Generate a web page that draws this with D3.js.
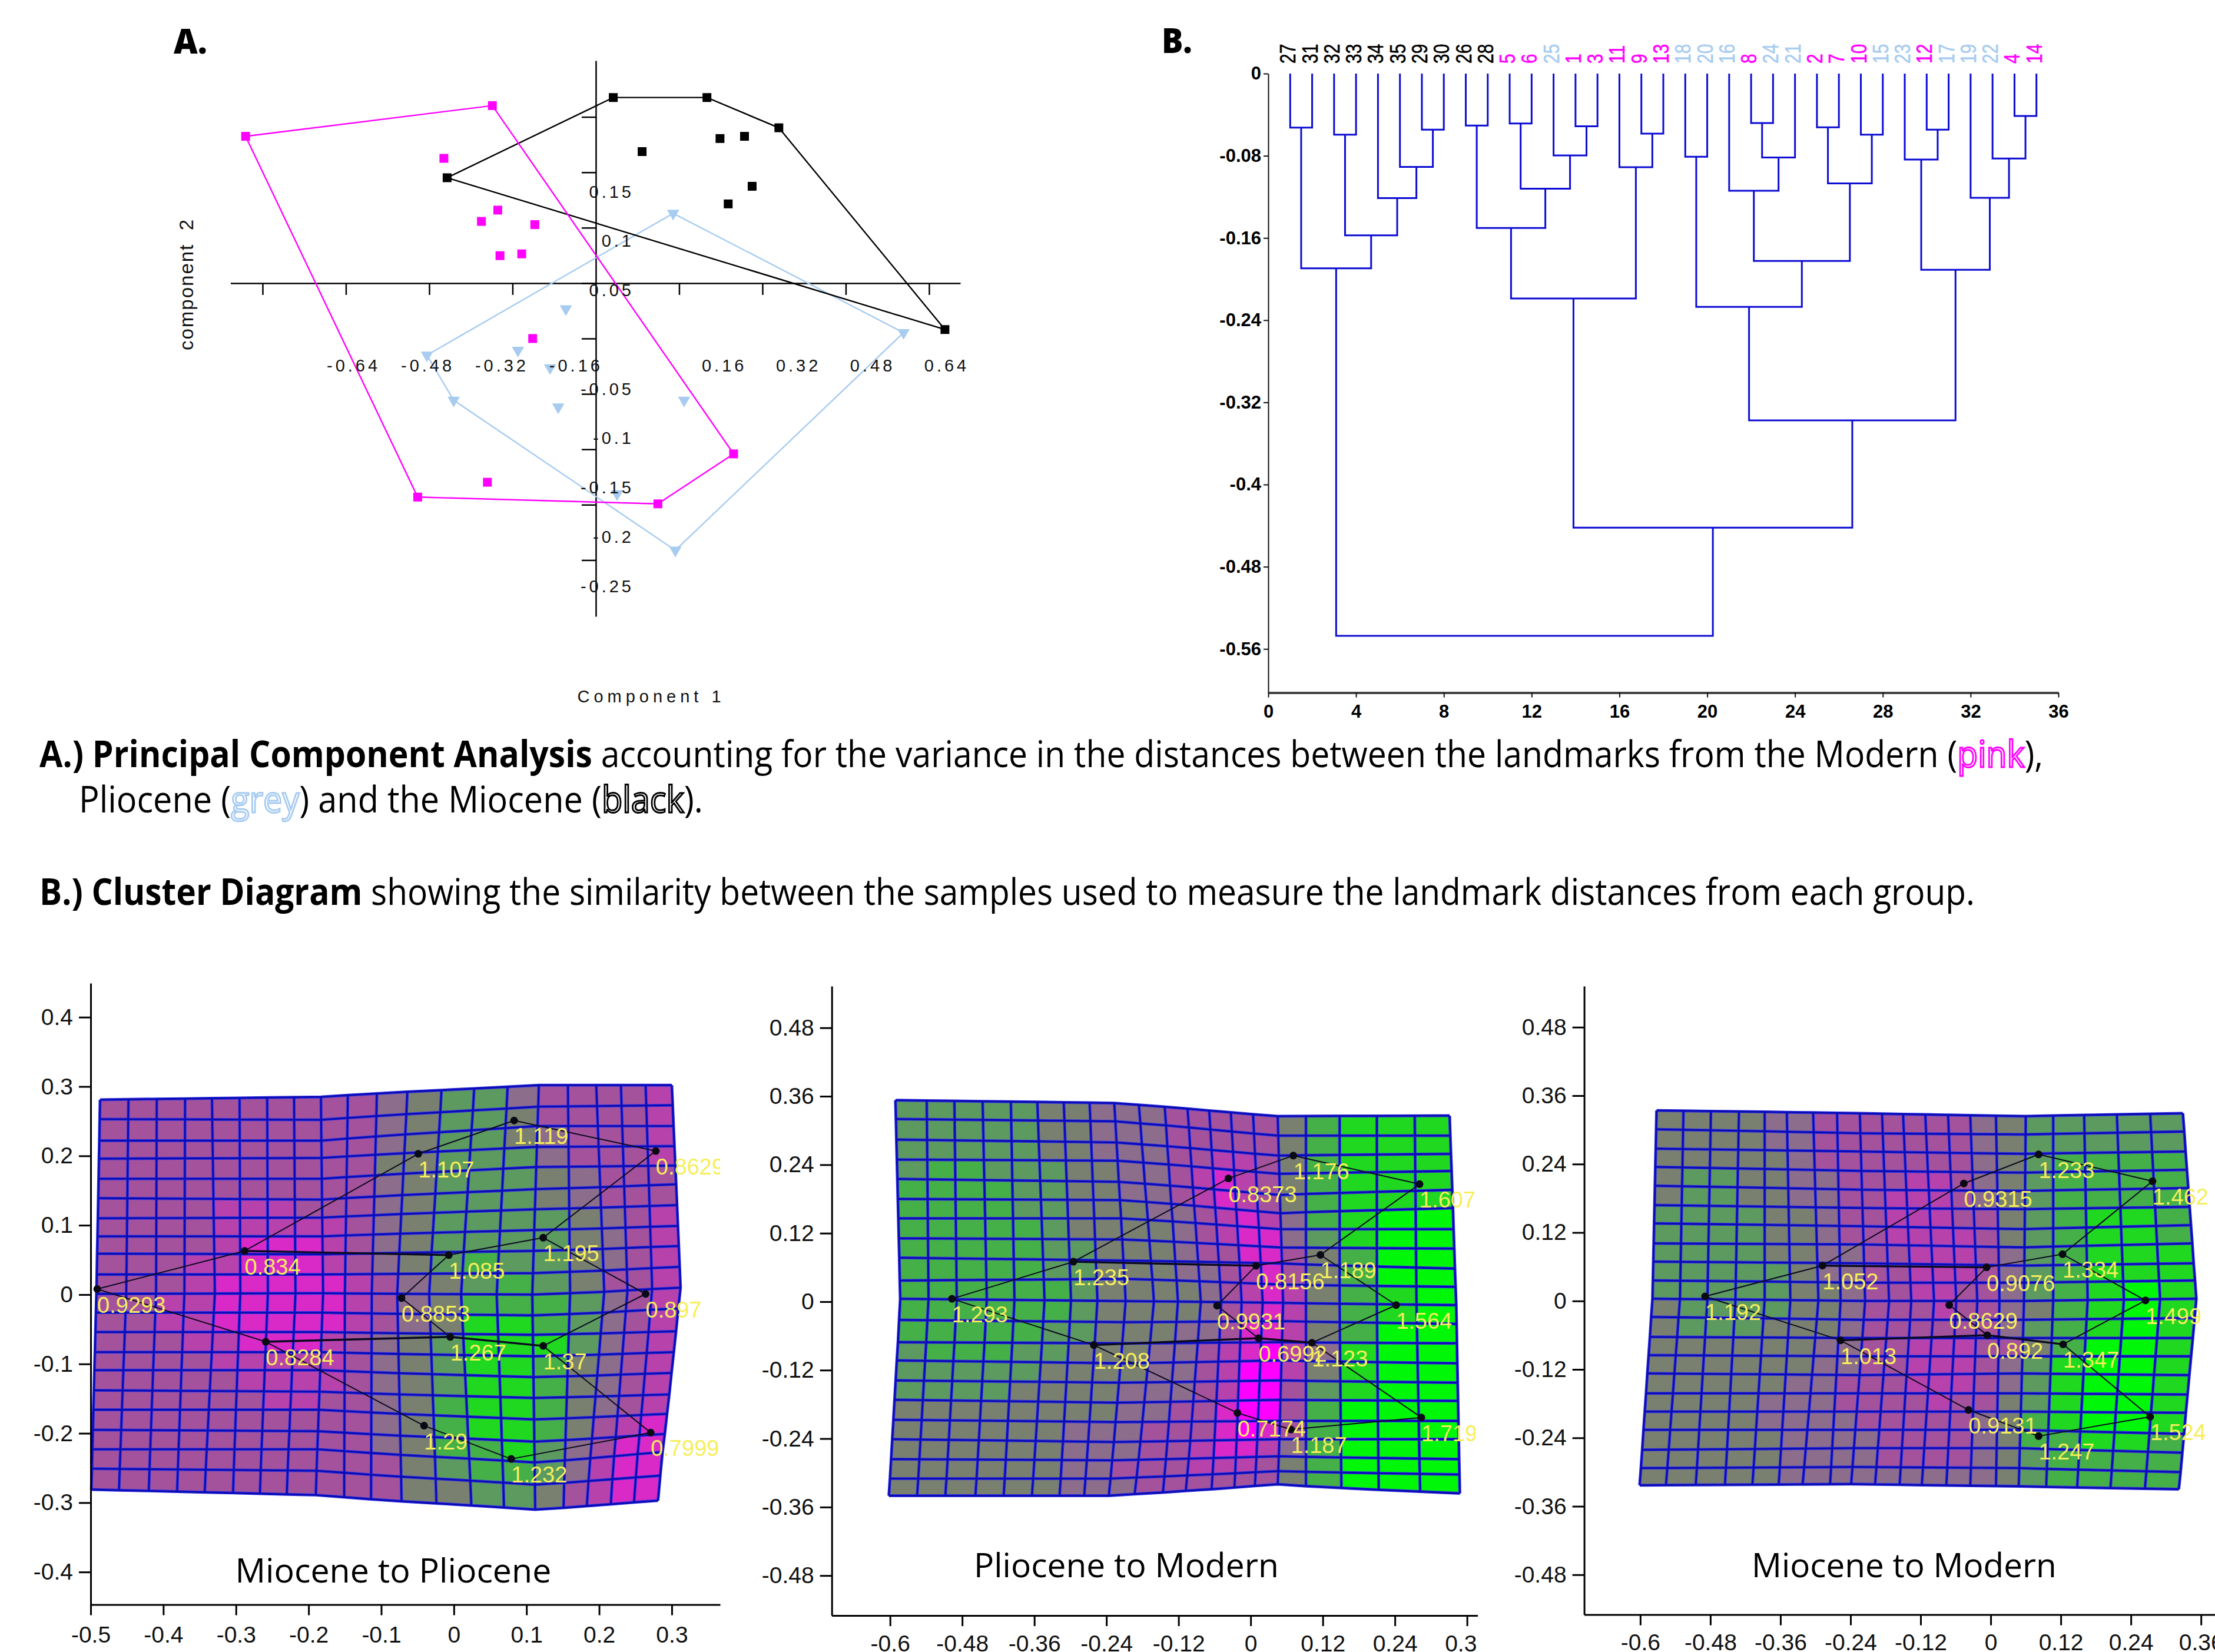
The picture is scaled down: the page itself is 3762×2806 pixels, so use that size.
<!DOCTYPE html>
<html>
<head>
<meta charset="utf-8">
<title>Landmark analysis figure</title>
<script src="https://cdn.jsdelivr.net/npm/d3@7"></script>
<style>
  html, body { margin: 0; padding: 0; background: #fff; }
  svg { display: block; }
</style>
</head>
<body>
<svg id="fig" width="3762" height="2806"></svg>
<script>
// ---- panel A, PCA scatter
const blackHullX = [-0.2856, 0.0335, 0.2134, 0.3515, 0.6705];
const blackHullY = [0.0951, 0.1675, 0.1675, 0.1402, -0.0419];
const blackInnerX = [0.0889, 0.2385, 0.2856, 0.3002, 0.2542];
const blackInnerY = [0.1187, 0.1305, 0.1325, 0.0874, 0.0715];
const pinkHullX = [-0.6726, -0.1987, 0.2646, 0.1192, -0.3421];
const pinkHullY = [0.1325, 0.1602, -0.1541, -0.1992, -0.1931];
const pinkInnerX = [-0.2918, -0.1883, -0.2197, -0.1172, -0.1841, -0.1423, -0.1213, -0.2082];
const pinkInnerY = [0.1126, 0.0659, 0.0557, 0.0528, 0.0248, 0.0264, -0.05, -0.1797];
const blueHullX = [0.1485, 0.591, 0.1527, -0.273, -0.3243];
const blueHullY = [0.063, -0.0447, -0.2411, -0.1057, -0.065];
const blueInnerX = [-0.0575, -0.1496, -0.0879, -0.0722, 0.1695, 0.0408];
const blueInnerY = [-0.0232, -0.0606, -0.0764, -0.1118, -0.1057, -0.1902];
const pcaTicksX = [-0.64, -0.48, -0.32, -0.16, 0, 0.16, 0.32, 0.48, 0.64];
const pcaTicksY = [0.15, 0.1, 0.05, 0, -0.05, -0.1, -0.15, -0.2, -0.25];
const pcaLabelsX = [-0.64, -0.48, -0.32, -0.16, 0.16, 0.32, 0.48, 0.64];
const pcaLabelsY = [0.15, 0.1, 0.05, -0.05, -0.1, -0.15, -0.2, -0.25];

// ---- panel B, cluster diagram
const leafNames = [27,31,32,33,34,35,29,30,26,28,5,6,25,1,3,11,9,13,18,20,16,8,24,21,2,7,10,15,23,12,17,19,22,4,14];
// k black (Miocene), p pink (Modern), b grey-blue (Pliocene)
const leafGroup = 'kkkkkkkkkkppbpppppbbbpbbpppbbpbbbpp';
// positive = leaf position, negative = earlier merge number
const mergeLeft = [1,3,7,6,5,-2,-1,9,11,14,13,-9,-8,17,16,-13,19,22,-18,21,25,27,-21,-20,-17,30,29,34,33,32,-27,-25,-16,-7];
const mergeRight = [2,4,8,-3,-4,-5,-6,10,12,15,-10,-11,-12,18,-14,-15,20,23,24,-19,26,28,-22,-23,-24,31,-26,35,-28,-29,-30,-31,-32,-33];
const mergeHeight = [-0.0526,-0.0595,-0.0546,-0.0908,-0.1212,-0.1574,-0.1896,-0.0505,-0.0485,-0.0513,-0.0796,-0.112,-0.1503,-0.0584,-0.0911,-0.2189,-0.0809,-0.0482,-0.0817,-0.1141,-0.0523,-0.0595,-0.1069,-0.1824,-0.2271,-0.0546,-0.0837,-0.0413,-0.0827,-0.1209,-0.1909,-0.3375,-0.442,-0.5472];
const dendTicksY = [0,-0.08,-0.16,-0.24,-0.32,-0.4,-0.48,-0.56];
const dendTicksX = [0,4,8,12,16,20,24,28,32,36];

// ---- landmark edges, same for the three deformation plots
const edgeFrom = [0,1,2,3,4,5,10,9,14,13,12,11,6,6,7];
const edgeTo = [1,2,3,4,5,10,9,14,13,12,11,0,5,7,8];
const thickFrom = [1,8,8];
const thickTo = [6,11,9];

// ---- Miocene to Pliocene
const m1ColTop = [-.487,-.448,-.409,-.370,-.333,-.295,-.257,-.220,-.183,-.146,-.106,-.064,-.017,.028,.074,.117,.157,.196,.230,.264,.300];
const m1ColMid = [-.492,-.451,-.410,-.371,-.329,-.294,-.256,-.218,-.180,-.150,-.113,-.078,-.034,.010,.059,.108,.160,.207,.239,.273,.312];
const m1ColBot = [-.499,-.461,-.420,-.381,-.343,-.304,-.267,-.230,-.190,-.151,-.114,-.072,-.024,.024,.069,.112,.151,.183,.216,.248,.281];
const m1RowA = [.281,.253,.222,.196,.167,.139,.110,.084,.059,.029,.001,-.026,-.054,-.083,-.109,-.138,-.166,-.195,-.223,-.251,-.281];
const m1RowB = [.285,.252,.222,.197,.167,.137,.111,.084,.058,.029,.002,-.026,-.054,-.083,-.109,-.140,-.166,-.197,-.223,-.254,-.289];
const m1RowC = [.302,.271,.243,.213,.184,.152,.123,.093,.063,.031,.000,-.030,-.058,-.089,-.119,-.149,-.180,-.212,-.242,-.274,-.310];
const m1RowD = [.302,.273,.243,.214,.186,.159,.129,.099,.070,.040,.010,-.020,-.053,-.083,-.113,-.144,-.172,-.201,-.227,-.261,-.297];
const m1Cells = [
  '33333333334566433332','33333333334566533332','33333333334566543332','33333333335566643332',
  '33333333334566654333','33332223334566654333','33332222234566665432','33332111234566665432',
  '33322111234567665432','33321111123456765332','33221111123457776432','33221111123458876432',
  '33322111234568886432','33332222234568875432','33333222234568875432','33333322334578875432',
  '33333333334578875321','33333333334577864311','33333333333567764211','33333333333556653211'];
const m1X = [-.491,-.288,-.049,.083,.278,.123,-.007,-.072,-.005,.123,.264,-.259,-.041,.079,.271];
const m1Y = [.008,.063,.203,.251,.207,.082,.057,-.005,-.061,-.074,.001,-.068,-.189,-.237,-.199];
const m1Labels = ['0.9293','0.834','1.107','1.119','0.8629','1.195','1.085','0.8853','1.267','1.37','0.897','0.8284','1.29','1.232','0.7999'];

// ---- Pliocene to Modern
const m2ColTop = [-.591,-.539,-.493,-.446,-.399,-.355,-.311,-.268,-.227,-.186,-.143,-.105,-.069,-.033,.004,.045,.092,.148,.210,.273,.331];
const m2ColMid = [-.583,-.536,-.489,-.439,-.393,-.343,-.299,-.255,-.208,-.161,-.121,-.083,-.049,-.015,.020,.054,.092,.148,.210,.276,.342];
const m2ColBot = [-.602,-.555,-.508,-.458,-.411,-.364,-.318,-.277,-.236,-.193,-.146,-.108,-.065,-.027,.007,.045,.092,.151,.213,.282,.348];
const m2RowA = [.353,.320,.284,.249,.215,.180,.146,.111,.077,.037,.005,-.032,-.071,-.103,-.138,-.172,-.207,-.241,-.276,-.310,-.340];
const m2RowB = [.348,.316,.279,.247,.210,.178,.146,.109,.072,.040,.001,-.036,-.073,-.108,-.142,-.177,-.211,-.246,-.278,-.310,-.340];
const m2RowC = [.325,.291,.256,.224,.187,.155,.127,.095,.067,.030,-.002,-.034,-.071,-.103,-.138,-.172,-.209,-.241,-.271,-.297,-.320];
const m2RowD = [.326,.291,.259,.229,.196,.164,.127,.093,.058,.026,-.006,-.039,-.073,-.108,-.142,-.174,-.209,-.241,-.276,-.303,-.336];
const m2Cells = [
  '66666554443333357888','66666554443333357888','66666554443322357888','67766655443212357888',
  '77776655443212357888','77776655544321247899','77777655554321146899','77777665554331135799',
  '77777665554432135799','77777765555432125789','77777765555432125789','77777665554431125799',
  '67776655544321024899','66666555544320025899','66665555444320036899','55555555443310037999',
  '55555544433310137999','55555544433211247999','55555544333222357999','55555544433333357999'];
const m2X = [-.497,-.295,-.037,.071,.281,.116,.009,-.056,.013,.102,.242,-.261,-.022,.067,.284];
const m2Y = [.005,.070,.216,.256,.206,.082,.063,-.007,-.064,-.072,-.006,-.076,-.195,-.224,-.203];
const m2Labels = ['1.293','1.235','0.8373','1.176','1.607','1.189','0.8156','0.9931','0.6992','1.123','1.564','1.208','0.7174','1.187','1.719'];

// ---- Miocene to Modern
const m3ColTop = [-.572,-.526,-.479,-.431,-.387,-.349,-.304,-.263,-.224,-.186,-.150,-.112,-.073,-.035,.009,.060,.107,.160,.216,.273,.329];
const m3ColMid = [-.579,-.532,-.485,-.437,-.387,-.343,-.295,-.257,-.215,-.174,-.136,-.097,-.059,-.023,.015,.057,.107,.166,.228,.290,.352];
const m3ColBot = [-.601,-.556,-.505,-.455,-.408,-.363,-.322,-.275,-.239,-.198,-.156,-.118,-.076,-.035,.009,.048,.095,.148,.205,.264,.322];
const m3RowA = [.334,.301,.267,.235,.202,.168,.136,.101,.069,.036,.004,-.028,-.063,-.095,-.127,-.162,-.194,-.226,-.261,-.293,-.323];
const m3RowB = [.329,.294,.262,.228,.195,.163,.131,.099,.066,.032,.000,-.033,-.065,-.097,-.130,-.162,-.194,-.226,-.258,-.291,-.321];
const m3RowC = [.324,.292,.258,.225,.193,.161,.126,.094,.062,.032,.000,-.033,-.065,-.097,-.127,-.162,-.194,-.226,-.258,-.293,-.325];
const m3RowD = [.329,.297,.262,.230,.198,.165,.133,.101,.066,.036,.004,-.030,-.065,-.097,-.130,-.164,-.196,-.233,-.266,-.300,-.330];
const m3Cells = [
  '55554433333334566666','55554433333334566666','55555433333334567777','56655443332234567777',
  '56655443322234567777','66665543322233567887','66665543322223567887','66665544332223467888',
  '66666544332223467888','66666554332233467898','56666554333233457898','56665554333333467898',
  '55555544332223357998','55555544332223468998','55555443332223468998','55554443333233568998',
  '55554444333334578998','55555444433334577887','55555444433334567777','55555444444444567777'];
const m3X = [-.489,-.288,-.046,.082,.277,.123,-.007,-.071,-.006,.124,.265,-.257,-.038,.082,.273];
const m3Y = [.008,.062,.206,.257,.210,.082,.059,-.007,-.060,-.076,.001,-.069,-.191,-.237,-.203];
const m3Labels = ['1.192','1.052','0.9315','1.233','1.462','1.334','0.9076','0.8629','0.892','1.347','1.499','1.013','0.9131','1.247','1.524'];

const ticksWide = [-0.6,-0.48,-0.36,-0.24,-0.12,0,0.12,0.24,0.36];
const ticksTall = [0.48,0.36,0.24,0.12,0,-0.12,-0.24,-0.36,-0.48];
const ticks1X = [-0.5,-0.4,-0.3,-0.2,-0.1,0,0.1,0.2,0.3];
const ticks1Y = [0.4,0.3,0.2,0.1,0,-0.1,-0.2,-0.3,-0.4];

const svg = d3.select('#fig');
const ARIAL = '"Liberation Sans", Arial, sans-serif';
const MYRIAD = '"Open Sans", sans-serif';
const PINK = '#ff00ff', BLUE = '#a8ccf0', BLACK = '#000';

svg.append('rect').attr('width', 3762).attr('height', 2806).attr('fill', '#fff');

// squeeze a text to the width it has in the figure, Open Sans runs wider than the original
function fitWidth(sel, x, y, width) {
  const len = sel.node().getComputedTextLength();
  sel.attr('transform', `translate(${x},${y}) scale(${width / len},1)`);
}

// ---------- A. PCA ----------
const gA = svg.append('g');
const pcaX = d3.scaleLinear().domain([-0.7016, 0.70]).range([391.5, 1631]);
const pcaY = d3.scaleLinear().domain([-0.3008, 0.2008]).range([1047, 103]);
const pcaLabelX = d3.scaleLinear().domain([-0.64, 0.64]).range([600.6, 1608]);
const pcaLabelY = d3.scaleLinear().domain([0.15, -0.25]).range([324.5, 994.7]);

const axA1 = gA.append('g').attr('transform', `translate(0,${pcaY(0)})`)
  .call(d3.axisBottom(pcaX).tickValues(pcaTicksX).tickSize(20).tickSizeOuter(0).tickFormat(''));
const axA2 = gA.append('g').attr('transform', `translate(${pcaX(0)},0)`)
  .call(d3.axisLeft(pcaY).tickValues(pcaTicksY).tickSize(24).tickSizeOuter(0).tickFormat(''));
[axA1, axA2].forEach(a => a.selectAll('path,line').attr('stroke', '#000').attr('stroke-width', 2.5));
axA1.selectAll('.tick').filter(d => d === 0).remove();

const hull = d3.line().x(d => pcaX(d[0])).y(d => pcaY(d[1])).curve(d3.curveLinearClosed);
const scatterSets = [
  { hx: blueHullX, hy: blueHullY, ix: blueInnerX, iy: blueInnerY, color: BLUE, tri: true },
  { hx: blackHullX, hy: blackHullY, ix: blackInnerX, iy: blackInnerY, color: BLACK, tri: false },
  { hx: pinkHullX, hy: pinkHullY, ix: pinkInnerX, iy: pinkInnerY, color: PINK, tri: false }
];
scatterSets.forEach(s => {
  const h = s.hx.map((v, i) => [v, s.hy[i]]);
  gA.append('path').attr('d', hull(h)).attr('fill', 'none').attr('stroke', s.color).attr('stroke-width', 2.4);
});
scatterSets.forEach(s => {
  const pts = s.hx.map((v, i) => [v, s.hy[i]]).concat(s.ix.map((v, i) => [v, s.iy[i]]));
  const sym = s.tri ? d3.symbol(d3.symbolTriangle, 190) : d3.symbol(d3.symbolSquare, 225);
  gA.append('g').selectAll('path').data(pts).join('path')
    .attr('d', sym)
    .attr('transform', d => `translate(${pcaX(d[0])},${pcaY(d[1])})` + (s.tri ? ' rotate(180)' : ''))
    .attr('fill', s.color);
});

// tick labels of this panel do not line up with its ticks in the original
const pcaText = { 'font-family': ARIAL, 'font-size': 29, 'letter-spacing': 5, fill: '#111' };
function applyAttrs(sel, attrs) { Object.keys(attrs).forEach(k => sel.attr(k, attrs[k])); return sel; }
applyAttrs(gA.append('g').selectAll('text').data(pcaLabelsX).join('text'), pcaText)
  .attr('x', d => pcaLabelX(d)).attr('y', 631).attr('text-anchor', 'middle').text(d => String(d));
applyAttrs(gA.append('g').selectAll('text').data(pcaLabelsY).join('text'), pcaText)
  .attr('x', 1077).attr('y', d => pcaLabelY(d) + 11).attr('text-anchor', 'end').text(d => String(d));
applyAttrs(gA.append('text'), pcaText)
  .attr('x', 1106).attr('y', 1193).attr('letter-spacing', 7).attr('text-anchor', 'middle').text('Component 1');
applyAttrs(gA.append('text'), pcaText)
  .attr('transform', 'translate(328,483) rotate(-90)').attr('font-size', 33).attr('letter-spacing', 2)
  .attr('text-anchor', 'middle').attr('xml:space', 'preserve').text('component  2');

const letterA = svg.append('text').attr('font-family', MYRIAD).attr('font-weight', 800).attr('font-size', 58).text('A.');
fitWidth(letterA, 295, 91, 57);
const letterB = svg.append('text').attr('font-family', MYRIAD).attr('font-weight', 800).attr('font-size', 58).text('B.');
fitWidth(letterB, 1973, 90, 52);

// ---------- B. cluster ----------
const gB = svg.append('g');
const dendX = d3.scaleLinear().domain([0, 36]).range([2154, 3496]);
const dendY = d3.scaleLinear().domain([0, -0.6026]).range([125, 1176.6]);

const axB1 = gB.append('g').attr('transform', `translate(0,${dendY.range()[1]})`)
  .call(d3.axisBottom(dendX).tickValues(dendTicksX).tickSize(8).tickPadding(12).tickSizeOuter(0).tickFormat(d => d));
const axB2 = gB.append('g').attr('transform', `translate(${dendX(0)},0)`)
  .call(d3.axisLeft(dendY).tickValues(dendTicksY).tickSize(8).tickPadding(4).tickSizeOuter(0).tickFormat(d => d));
axB1.select('.domain').attr('stroke', '#444').attr('stroke-width', 4);
axB2.select('.domain').attr('stroke', '#111').attr('stroke-width', 2);
[axB1, axB2].forEach(a => {
  a.selectAll('.tick line').attr('stroke', '#111').attr('stroke-width', 2);
  a.selectAll('.tick text').attr('font-family', ARIAL).attr('font-weight', 700).attr('font-size', 31).attr('fill', '#000');
});

const mergeX = [];
const nodeX = r => r > 0 ? r : mergeX[-r - 1];
const nodeH = r => r > 0 ? 0 : mergeHeight[-r - 1];
mergeHeight.forEach((h, i) => { mergeX[i] = (nodeX(mergeLeft[i]) + nodeX(mergeRight[i])) / 2; });

gB.append('g').selectAll('path').data(mergeHeight).join('path')
  .attr('d', (h, i) => {
    const l = mergeLeft[i], r = mergeRight[i];
    return `M${dendX(nodeX(l))},${dendY(nodeH(l))}V${dendY(h)}H${dendX(nodeX(r))}V${dendY(nodeH(r))}`;
  })
  .attr('fill', 'none').attr('stroke', '#0c0cd4').attr('stroke-width', 3);

const groupColor = { k: BLACK, p: PINK, b: BLUE };
gB.append('g').selectAll('text').data(leafNames).join('text')
  .attr('transform', (d, i) => `translate(${dendX(i + 1) + 9},108) rotate(-90) scale(1,1.2)`)
  .attr('font-family', ARIAL).attr('font-size', 30)
  .attr('fill', (d, i) => groupColor[leafGroup[i]])
  .attr('stroke', (d, i) => groupColor[leafGroup[i]]).attr('stroke-width', 0.5)
  .text(d => d);

// ---------- captions ----------
function caption(x, y, width, runs) {
  const t = svg.append('text').attr('font-family', MYRIAD).attr('font-size', 62).attr('fill', '#000').attr('xml:space', 'preserve');
  runs.forEach(r => {
    const s = t.append('tspan').text(r.text);
    if (r.bold) s.attr('font-weight', 700);
    if (r.outline) s.attr('fill', '#fff').attr('stroke', r.outline).attr('stroke-width', 3);
  });
  fitWidth(t, x, y, width);
}
caption(67, 1303, 3404, [
  { text: 'A.) Principal Component Analysis', bold: true },
  { text: ' accounting for the variance in the distances between the landmarks from the Modern (' },
  { text: 'pink', outline: PINK }, { text: '),' }]);
caption(134, 1380, 1060, [
  { text: 'Pliocene (' }, { text: 'grey', outline: BLUE }, { text: ') and the Miocene (' },
  { text: 'black', outline: BLACK }, { text: ').' }]);
caption(67, 1537, 3288, [
  { text: 'B.) Cluster Diagram', bold: true },
  { text: ' showing the similarity between the samples used to measure the landmark distances from each group.' }]);

// ---------- deformation grids ----------
const cellColor = d3.scaleLinear()
  .domain([0, 1, 2, 3, 4, 5, 6, 7, 8, 9])
  .range(['#ff00ff', '#d92ac8', '#b842ac', '#a5529c', '#8c6d8c', '#7a8070', '#5c9a60', '#45b048', '#20d820', '#00f808']);

const panels = [
  { title: 'Miocene to Pliocene', tx: 399.5, ty: 2688, tw: 537, clipRight: 1223, axisClip: 3762,
    x: d3.scaleLinear().domain([-0.5, 0.3665]).range([154, 1223]),
    y: d3.scaleLinear().domain([-0.447, 0.449]).range([2725.5, 1670]),
    ticksX: ticks1X, ticksY: ticks1Y, padX: 19,
    colTop: m1ColTop, colMid: m1ColMid, colBot: m1ColBot, rows: [m1RowA, m1RowB, m1RowC, m1RowD],
    cells: m1Cells, lx: m1X, ly: m1Y, labels: m1Labels },
  { title: 'Pliocene to Modern', tx: 1654, ty: 2679, tw: 518, clipRight: 2506, axisClip: 2510,
    x: d3.scaleLinear().domain([-0.697, 0.378]).range([1412.7, 2510]),
    y: d3.scaleLinear().domain([-0.55, 0.553]).range([2744, 1675]),
    ticksX: ticksWide, ticksY: ticksTall, padX: 15,
    colTop: m2ColTop, colMid: m2ColMid, colBot: m2ColBot, rows: [m2RowA, m2RowB, m2RowC, m2RowD],
    cells: m2Cells, lx: m2X, ly: m2Y, labels: m2Labels },
  { title: 'Miocene to Modern', tx: 2975, ty: 2679, tw: 518, clipRight: 3762, axisClip: 3762,
    x: d3.scaleLinear().domain([-0.696, 0.384]).range([2690.6, 3762]),
    y: d3.scaleLinear().domain([-0.55, 0.552]).range([2742.6, 1675]),
    ticksX: ticksWide, ticksY: ticksTall, padX: 15,
    colTop: m3ColTop, colMid: m3ColMid, colBot: m3ColBot, rows: [m3RowA, m3RowB, m3RowC, m3RowD],
    cells: m3Cells, lx: m3X, ly: m3Y, labels: m3Labels }
];

const defs = svg.append('defs');

panels.forEach((p, n) => {
  const g = svg.append('g');

  // warped nodes: each grid line is read at a few places and joined up
  const nodes = d3.range(21).map(j => d3.range(21).map(i => {
    const gx = d3.scaleLinear().domain([0, 10, 20]).range([p.colTop[i], p.colMid[i], p.colBot[i]])(j);
    const gy = d3.scaleLinear().domain([0, 8, 15, 20]).range(p.rows.map(r => r[j]))(i);
    return [p.x(gx), p.y(gy)];
  }));

  const cells = [];
  p.cells.forEach((row, j) => row.split('').forEach((c, i) => cells.push({ i, j, v: +c })));
  g.append('g').selectAll('path').data(cells).join('path')
    .attr('d', c => 'M' + [nodes[c.j][c.i], nodes[c.j][c.i + 1], nodes[c.j + 1][c.i + 1], nodes[c.j + 1][c.i]].join('L') + 'Z')
    .attr('fill', c => cellColor(c.v))
    .attr('stroke', c => cellColor(c.v)).attr('stroke-width', 0.5);

  const pl = d3.line();
  const gridLines = nodes.concat(d3.range(21).map(i => nodes.map(row => row[i])));
  g.append('g').selectAll('path').data(gridLines).join('path')
    .attr('d', pl).attr('fill', 'none').attr('stroke', '#3434e0').attr('stroke-width', 5);
  g.append('g').selectAll('path').data(gridLines).join('path')
    .attr('d', pl).attr('fill', 'none').attr('stroke', '#0a0ab4').attr('stroke-width', 2.8);

  // landmark outline
  const px = i => p.x(p.lx[i]), py = i => p.y(p.ly[i]);
  g.append('g').selectAll('line').data(edgeFrom).join('line')
    .attr('x1', d => px(d)).attr('y1', d => py(d))
    .attr('x2', (d, i) => px(edgeTo[i])).attr('y2', (d, i) => py(edgeTo[i]))
    .attr('stroke', '#0a0a20').attr('stroke-width', 2);
  g.append('g').selectAll('line').data(thickFrom).join('line')
    .attr('x1', d => px(d)).attr('y1', d => py(d))
    .attr('x2', (d, i) => px(thickTo[i])).attr('y2', (d, i) => py(thickTo[i]))
    .attr('stroke', '#0a0a20').attr('stroke-width', 3.4);
  g.append('g').selectAll('circle').data(p.lx).join('circle')
    .attr('cx', (d, i) => px(i)).attr('cy', (d, i) => py(i)).attr('r', 6.5).attr('fill', '#0a0a14');

  // labels run off the plot on the right side
  defs.append('clipPath').attr('id', `labelClip${n}`).append('rect')
    .attr('x', 0).attr('y', 1600).attr('width', p.clipRight).attr('height', 1206);
  g.append('g').attr('clip-path', `url(#labelClip${n})`).selectAll('text').data(p.labels).join('text')
    .attr('x', (d, i) => px(i)).attr('y', (d, i) => py(i) + 40)
    .attr('font-family', ARIAL).attr('font-size', 38).attr('fill', '#f6ee5c')
    .text(d => d);

  // axes
  defs.append('clipPath').attr('id', `axisClip${n}`).append('rect')
    .attr('x', 0).attr('y', 1600).attr('width', p.axisClip).attr('height', 1206);
  const ax = svg.append('g').attr('clip-path', `url(#axisClip${n})`);
  const a1 = ax.append('g').attr('transform', `translate(0,${p.y.range()[0]})`)
    .call(d3.axisBottom(p.x).tickValues(p.ticksX).tickSize(18).tickPadding(p.padX).tickSizeOuter(0).tickFormat(d => d));
  const a2 = ax.append('g').attr('transform', `translate(${p.x.range()[0]},0)`)
    .call(d3.axisLeft(p.y).tickValues(p.ticksY).tickSize(20).tickPadding(10).tickSizeOuter(0).tickFormat(d => d));
  [a1, a2].forEach(a => {
    a.selectAll('path,line').attr('stroke', '#000').attr('stroke-width', 3);
    a.selectAll('text').attr('font-family', ARIAL).attr('font-size', 39).attr('fill', '#111');
  });

  const t = svg.append('text').attr('font-family', MYRIAD).attr('font-size', 57).attr('fill', '#000').text(p.title);
  fitWidth(t, p.tx, p.ty, p.tw);
});
</script>
</body>
</html>
